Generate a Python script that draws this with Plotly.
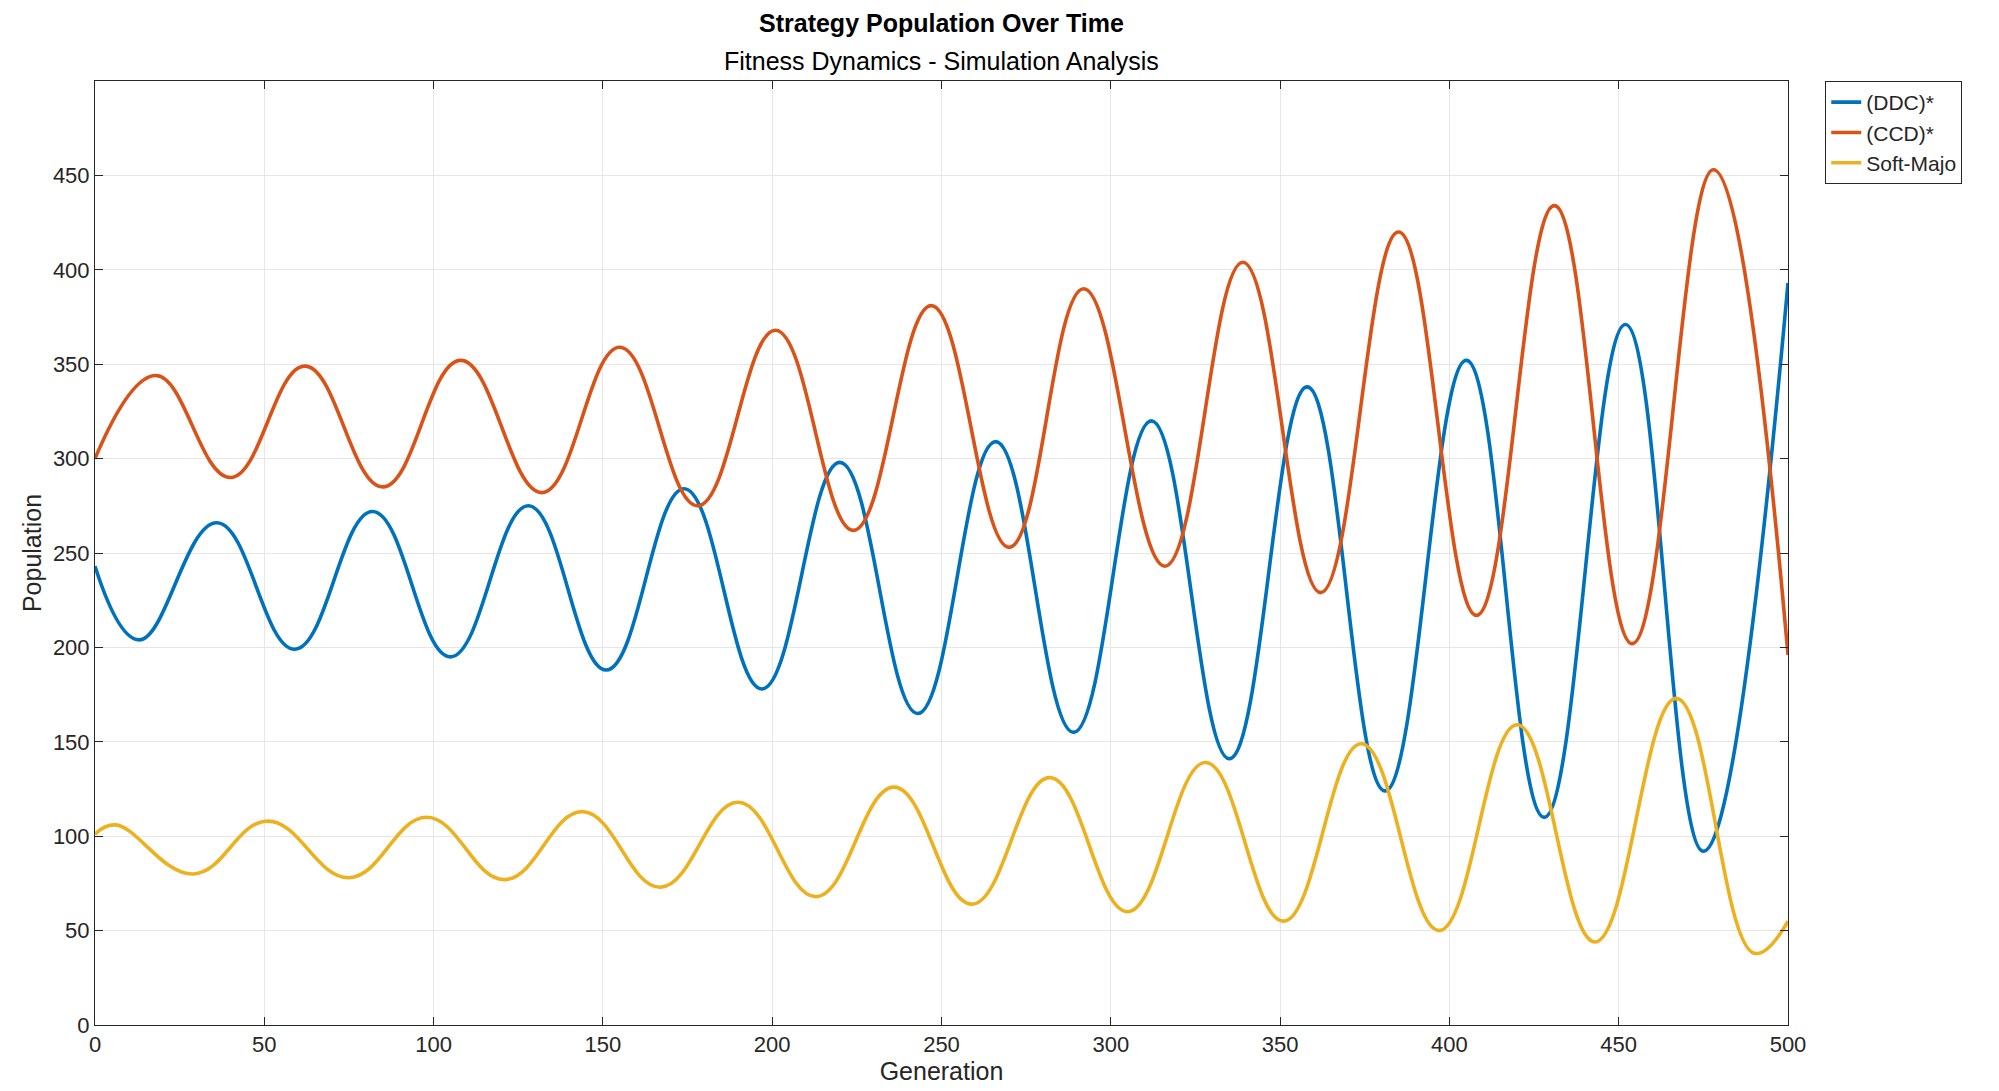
import plotly.graph_objects as go

# key points (peaks / troughs)
ddc_gen = [0, 13, 36, 59, 82, 105, 128, 151, 174, 197, 220, 243, 266, 289, 312, 335, 358, 381, 405, 428, 452, 475, 500]
ddc_pop = [243, 204, 266, 199, 272, 195, 275, 188, 284, 178, 298, 165, 309, 155, 320, 141, 338, 124, 352, 110, 371, 92, 393]

ccd_gen = [0, 18, 40, 62, 85, 108, 132, 155, 178, 201, 224, 247, 270, 292, 316, 339, 362, 385, 408, 431, 454, 478, 500]
ccd_pop = [300, 344, 290, 349, 285, 352, 282, 359, 275, 368, 262, 381, 253, 390, 243, 404, 229, 420, 217, 434, 202, 453, 196]

soft_gen = [0, 6, 29, 51, 75, 98, 121, 144, 167, 190, 213, 236, 259, 282, 305, 328, 351, 374, 397, 420, 443, 467, 490, 500]
soft_pop = [101, 106, 80, 108, 78, 110, 77, 113, 73, 118, 68, 126, 64, 131, 60, 139, 55, 149, 50, 159, 44, 173, 38, 55]

series = [
    ("(DDC)*", ddc_gen, ddc_pop, "#0072BD"),
    ("(CCD)*", ccd_gen, ccd_pop, "#D95319"),
    ("Soft-Majo", soft_gen, soft_pop, "#EDB120"),
]

fig = go.Figure()
for name, gx, gy, col in series:
    fig.add_trace(go.Scatter(x=gx, y=gy, name=name, mode="lines",
                             line=dict(color=col, width=3.6, shape="spline", smoothing=1.2)))

axis_style = dict(showline=True, linecolor="#262626", linewidth=1, mirror="ticks",
                  ticks="inside", ticklen=8, tickcolor="#262626",
                  showgrid=True, gridcolor="#e6e6e6", zeroline=False,
                  tickfont=dict(size=22, color="#262626"))

fig.update_layout(
    width=1999, height=1091,
    plot_bgcolor="white", paper_bgcolor="white",
    font=dict(family="Liberation Sans, Arial, sans-serif", color="#262626"),
    margin=dict(l=87, r=219, t=73, b=74),
    xaxis=dict(title=dict(text="Generation", font=dict(size=25), standoff=4),
               range=[0, 500], tickvals=list(range(0, 501, 50)), **axis_style),
    yaxis=dict(title=dict(text="Population", font=dict(size=25), standoff=4),
               range=[0, 500], tickvals=list(range(0, 451, 50)), **axis_style),
    legend=dict(x=1.022, y=1.0, xanchor="left", yanchor="top",
                bordercolor="#262626", borderwidth=1, bgcolor="white",
                font=dict(size=21), tracegroupgap=0),
    annotations=[
        dict(text="<b>Strategy Population Over Time</b>", xref="paper", yref="paper",
             x=0.5, y=1, yanchor="bottom", yshift=42, showarrow=False,
             font=dict(size=25, color="black")),
        dict(text="Fitness Dynamics - Simulation Analysis", xref="paper", yref="paper",
             x=0.5, y=1, yanchor="bottom", yshift=4, showarrow=False,
             font=dict(size=25, color="black")),
    ],
)

fig.write_html("out.html")
